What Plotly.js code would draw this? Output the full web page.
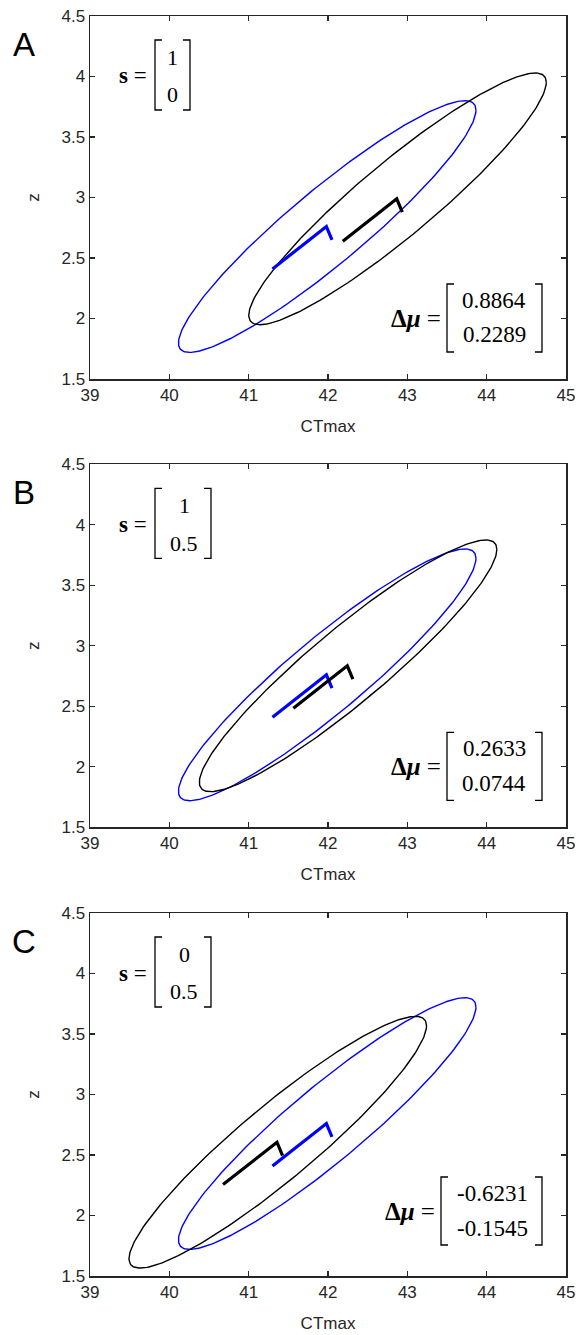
<!DOCTYPE html>
<html>
<head>
<meta charset="utf-8">
<script src="https://cdn.plot.ly/plotly-3.0.1.min.js"></script>
<style>
  html, body { margin: 0; padding: 0; background: #ffffff; }
  #chart { width: 580px; height: 1335px; }
</style>
</head>
<body>
<div id="chart"></div>
<script>
// ---------------- data ----------------
const panelLabels = ['A', 'B', 'C'];
const sTop = ['1', '1', '0'];
const sBottom = ['0', '0.5', '0.5'];
const deltaMuX = [0.8864, 0.2633, -0.6231];
const deltaMuZ = [0.2289, 0.0744, -0.1545];

// reference (blue) distribution: centre, half extents along each axis, correlation
const refCenter = [41.99, 2.76];
const refHalfExtent = [1.875, 1.04];
const refCorr = 0.925;

// reference (blue) mean path
const refPathX = [41.30, 41.98, 42.05];
const refPathZ = [2.41, 2.76, 2.65];

const xTickVals = [39, 40, 41, 42, 43, 44, 45];
const yTickVals = [1.5, 2, 2.5, 3, 3.5, 4, 4.5];
const yTickText = ['1.5', '2', '2.5', '3', '3.5', '4', '4.5'];

// ---------------- layout constants ----------------
const W = 580, H = 1335;
const plotLeft = 90, plotRight = 566, plotH = 363;
const panelTops = [16, 464.3, 913];
const axisColor = '#262626';
const sansFont = 'Liberation Sans, Arial, sans-serif';
const serifFont = 'Liberation Serif, Times New Roman, serif';
const blue = '#0000ff';

const px = x => x / W;
const py = y => 1 - y / H;

function ellipse(cx, cz, hx, hz, rho) {
  const xs = [], zs = [];
  const n = 240;
  const q = Math.sqrt(1 - rho * rho);
  for (let i = 0; i <= n; i++) {
    const t = 2 * Math.PI * i / n;
    xs.push(cx + hx * Math.cos(t));
    zs.push(cz + hz * (rho * Math.cos(t) + q * Math.sin(t)));
  }
  return [xs, zs];
}

const traces = [];
const layout = {
  width: W, height: H,
  margin: {l: 0, r: 0, t: 0, b: 0},
  paper_bgcolor: '#ffffff', plot_bgcolor: '#ffffff',
  showlegend: false,
  font: {family: sansFont, color: axisColor},
  annotations: [],
  shapes: []
};

function bracket(xEdge, top, bottom, dir) {
  const s = 7 * dir;
  return {
    type: 'path', xref: 'paper', yref: 'paper',
    path: `M ${px(xEdge + s)} ${py(top)} L ${px(xEdge)} ${py(top)} L ${px(xEdge)} ${py(bottom)} L ${px(xEdge + s)} ${py(bottom)}`,
    line: {color: '#000000', width: 1.3}
  };
}

panelLabels.forEach((lab, i) => {
  const k = i === 0 ? '' : String(i + 1);
  const xa = 'x' + k, ya = 'y' + k;
  const top = panelTops[i];

  // reference ellipse (blue) and shifted ellipse (black)
  const [bx, bz] = ellipse(refCenter[0], refCenter[1], refHalfExtent[0], refHalfExtent[1], refCorr);
  const [kx, kz] = ellipse(refCenter[0] + deltaMuX[i], refCenter[1] + deltaMuZ[i],
                           refHalfExtent[0], refHalfExtent[1], refCorr);
  traces.push({x: bx, y: bz, xaxis: xa, yaxis: ya, mode: 'lines',
               line: {color: blue, width: 1.4}, hoverinfo: 'skip'});
  traces.push({x: kx, y: kz, xaxis: xa, yaxis: ya, mode: 'lines',
               line: {color: '#000000', width: 1.4}, hoverinfo: 'skip'});
  // mean paths
  traces.push({x: refPathX, y: refPathZ, xaxis: xa, yaxis: ya, mode: 'lines',
               line: {color: blue, width: 3.2}, hoverinfo: 'skip'});
  traces.push({x: refPathX.map(v => v + deltaMuX[i]), y: refPathZ.map(v => v + deltaMuZ[i]),
               xaxis: xa, yaxis: ya, mode: 'lines',
               line: {color: '#000000', width: 3.2}, hoverinfo: 'skip'});

  const axCommon = {
    showline: true, linecolor: axisColor, linewidth: 1.5, mirror: 'ticks',
    ticks: 'inside', ticklen: 5, tickwidth: 1.3, tickcolor: axisColor,
    showgrid: false, zeroline: false, fixedrange: true,
    tickfont: {family: sansFont, size: 17, color: axisColor}
  };
  layout['xaxis' + k] = Object.assign({}, axCommon, {
    domain: [px(plotLeft), px(plotRight)], anchor: ya,
    range: [39, 45], tickmode: 'array', tickvals: xTickVals,
    title: {text: 'CTmax', font: {family: sansFont, size: 17, color: axisColor}, standoff: 16}
  });
  layout['yaxis' + k] = Object.assign({}, axCommon, {
    domain: [py(top + plotH), py(top)], anchor: xa,
    range: [1.5, 4.5], tickmode: 'array', tickvals: yTickVals, ticktext: yTickText,
    title: {text: 'z', font: {family: sansFont, size: 17, color: axisColor}, standoff: 17}
  });

  // panel letter
  layout.annotations.push({
    xref: 'paper', yref: 'paper', x: px(23.5), y: py(top + 28.5),
    xanchor: 'center', yanchor: 'middle', showarrow: false,
    text: lab, font: {family: sansFont, size: 33, color: '#000000'}
  });

  // s vector
  const sWide = sBottom[i].length > 1 || sTop[i].length > 1;
  const sNumX = sWide ? 184 : 172;
  const sRight = sWide ? 211 : 190;
  layout.annotations.push({
    xref: 'paper', yref: 'paper', x: px(149), y: py(top + 60),
    xanchor: 'right', yanchor: 'middle', showarrow: false,
    text: '<b>s</b> =', font: {family: serifFont, size: 23, color: '#000000'}
  });
  layout.annotations.push({
    xref: 'paper', yref: 'paper', x: px(sNumX), y: py(top + 41),
    xanchor: 'center', yanchor: 'middle', showarrow: false,
    text: sTop[i], font: {family: serifFont, size: 22, color: '#000000'}
  });
  layout.annotations.push({
    xref: 'paper', yref: 'paper', x: px(sNumX), y: py(top + 79),
    xanchor: 'center', yanchor: 'middle', showarrow: false,
    text: sBottom[i], font: {family: serifFont, size: 22, color: '#000000'}
  });
  layout.shapes.push(bracket(155, top + 24, top + 94, 1));
  layout.shapes.push(bracket(sRight, top + 24, top + 94, -1));

  // delta mu vector
  const muTop = deltaMuX[i].toFixed(4);
  const muBot = deltaMuZ[i].toFixed(4);
  const neg = deltaMuX[i] < 0;
  const off = neg ? -4 : 0;
  const leftB = neg ? 441 : 447;
  const numX = neg ? 492 : 494;
  layout.annotations.push({
    xref: 'paper', yref: 'paper', x: px(leftB - 4), y: py(top + 302 + off),
    xanchor: 'right', yanchor: 'middle', showarrow: false,
    text: '<b>Δ<i>μ</i></b> =', font: {family: serifFont, size: 25, color: '#000000'}
  });
  layout.annotations.push({
    xref: 'paper', yref: 'paper', x: px(numX), y: py(top + 284 + off),
    xanchor: 'center', yanchor: 'middle', showarrow: false,
    text: muTop, font: {family: serifFont, size: 23, color: '#000000'}
  });
  layout.annotations.push({
    xref: 'paper', yref: 'paper', x: px(numX), y: py(top + 319 + off),
    xanchor: 'center', yanchor: 'middle', showarrow: false,
    text: muBot, font: {family: serifFont, size: 23, color: '#000000'}
  });
  layout.shapes.push(bracket(leftB, top + 268 + off, top + 336 + off, 1));
  layout.shapes.push(bracket(542, top + 268 + off, top + 336 + off, -1));
});

Plotly.newPlot('chart', traces, layout, {displayModeBar: false, staticPlot: true});
</script>
</body>
</html>
